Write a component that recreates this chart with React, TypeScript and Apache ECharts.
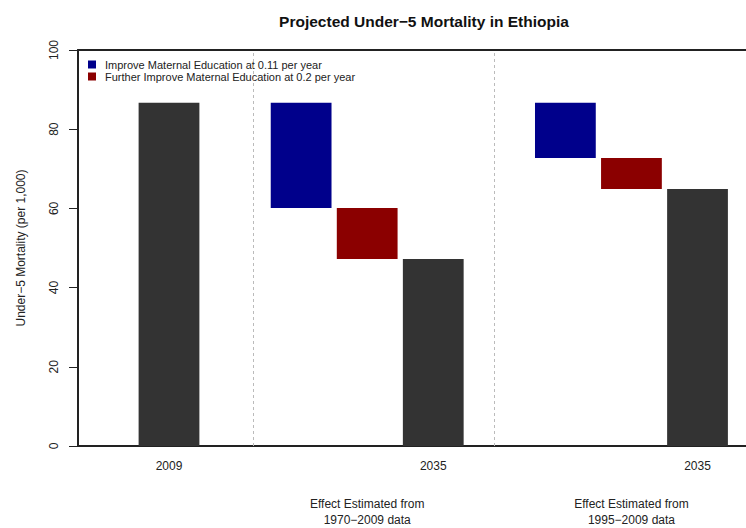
import React, { useEffect, useRef } from "react";
import * as echarts from "echarts";

const titleText = "Projected Under\u22125 Mortality in Ethiopia";
const yAxisName = "Under\u22125 Mortality (per 1,000)";
const legendNames = [
  "Improve Maternal Education at 0.11 per year",
  "Further Improve Maternal Education at 0.2 per year",
];

// x positions are bar slot indices
const tickPositions = [0, 4, 8];
const tickLabels = ["2009", "2035", "2035"];
const groupPositions = [3, 7];
const groupLabels = [
  "Effect Estimated from\n1970\u22122009 data",
  "Effect Estimated from\n1995\u22122009 data",
];
const dividerPositions = [1.273, 4.924];

// mortality levels: [slot, low, high]
const levelBars = [
  [0, 0, 86.7],
  [4, 0, 47.2],
  [8, 0, 64.9],
];
const improve011 = [
  [2, 60.1, 86.7],
  [6, 72.7, 86.7],
];
const improve02 = [
  [3, 47.2, 60.1],
  [7, 64.9, 72.7],
];

const FONT = "'Liberation Sans', Arial, sans-serif";
const HALF = 0.46;
const X_MIN = -1.3775;
const X_MAX = 8.734;

function renderRect(params: any, api: any) {
  const x = api.value(0);
  const lo = api.value(1);
  const hi = api.value(2);
  const p1 = api.coord([x - HALF, hi]);
  const p2 = api.coord([x + HALF, lo]);
  return {
    type: "rect",
    shape: { x: p1[0], y: p1[1], width: p2[0] - p1[0], height: p2[1] - p1[1] },
    style: api.style(),
  };
}

export default function App() {
  const ref = useRef<HTMLDivElement>(null);
  useEffect(() => {
    if (!ref.current) return;
    const chart = echarts.init(ref.current, null, { renderer: "svg" });
    const option: any = {
      animation: false,
      backgroundColor: "#fff",
      textStyle: { fontFamily: FONT },
      title: {
        text: titleText,
        left: 419,
        top: 8,
        textAlign: "center",
        textStyle: { fontFamily: FONT, fontSize: 15.5, fontWeight: "bold", color: "#111" },
      },
      legend: {
        data: legendNames,
        orient: "vertical",
        left: 86,
        top: 53,
        padding: [6, 8, 6, 2],
        backgroundColor: "#fff",
        itemWidth: 8,
        itemHeight: 8,
        itemGap: 1,
        icon: "rect",
        selectedMode: false,
        textStyle: { fontFamily: FONT, fontSize: 11, color: "#222", padding: [0, 0, 0, 4] },
      },
      grid: { left: 78, top: 50, right: 0, bottom: 82, containLabel: false },
      xAxis: [
        {
          type: "value",
          min: X_MIN,
          max: X_MAX,
          position: "bottom",
          axisLine: { show: true, onZero: false, lineStyle: { color: "#222", width: 2 } },
          axisTick: { show: false },
          splitLine: { show: false },
          axisLabel: {
            customValues: tickPositions,
            formatter: (v: number) => {
              const i = tickPositions.indexOf(Math.round(v));
              return i >= 0 ? tickLabels[i] : "";
            },
            margin: 14,
            fontFamily: FONT,
            fontSize: 12,
            color: "#222",
          },
        },
        {
          type: "value",
          min: X_MIN,
          max: X_MAX,
          position: "bottom",
          axisLine: { show: false },
          axisTick: { show: false },
          splitLine: { show: false },
          axisLabel: {
            customValues: groupPositions,
            formatter: (v: number) => {
              const i = groupPositions.indexOf(Math.round(v));
              return i >= 0 ? groupLabels[i] : "";
            },
            margin: 50,
            lineHeight: 16,
            fontFamily: FONT,
            fontSize: 12,
            color: "#222",
          },
        },
        {
          type: "value",
          min: X_MIN,
          max: X_MAX,
          position: "top",
          axisLine: { show: true, onZero: false, lineStyle: { color: "#222", width: 2 } },
          axisTick: { show: false },
          splitLine: { show: false },
          axisLabel: { show: false },
        },
      ],
      yAxis: {
        type: "value",
        min: 0,
        max: 100,
        interval: 20,
        name: yAxisName,
        nameLocation: "middle",
        nameGap: 51,
        nameTextStyle: { fontFamily: FONT, fontSize: 12, color: "#222" },
        axisLine: { show: true, onZero: false, lineStyle: { color: "#222", width: 2 } },
        axisTick: { show: true, length: 9, lineStyle: { color: "#222", width: 1 } },
        splitLine: { show: false },
        axisLabel: {
          rotate: 90,
          margin: 18,
          fontFamily: FONT,
          fontSize: 12,
          color: "#222",
        },
      },
      series: [
        {
          name: "levels",
          type: "custom",
          renderItem: renderRect,
          data: levelBars,
          itemStyle: { color: "#333333" },
          encode: { x: 0, y: [1, 2] },
          markLine: {
            silent: true,
            symbol: "none",
            label: { show: false },
            lineStyle: { type: [3, 3], color: "#bbbbbb", width: 1 },
            data: dividerPositions.map((p) => ({ xAxis: p })),
          },
        },
        {
          name: legendNames[0],
          type: "custom",
          renderItem: renderRect,
          data: improve011,
          itemStyle: { color: "#00008B" },
          encode: { x: 0, y: [1, 2] },
        },
        {
          name: legendNames[1],
          type: "custom",
          renderItem: renderRect,
          data: improve02,
          itemStyle: { color: "#8B0000" },
          encode: { x: 0, y: [1, 2] },
        },
      ],
    };
    chart.setOption(option);
    return () => chart.dispose();
  }, []);
  return <div ref={ref} style={{ width: 746, height: 528, position: "absolute", left: 0, top: 0 }} />;
}
